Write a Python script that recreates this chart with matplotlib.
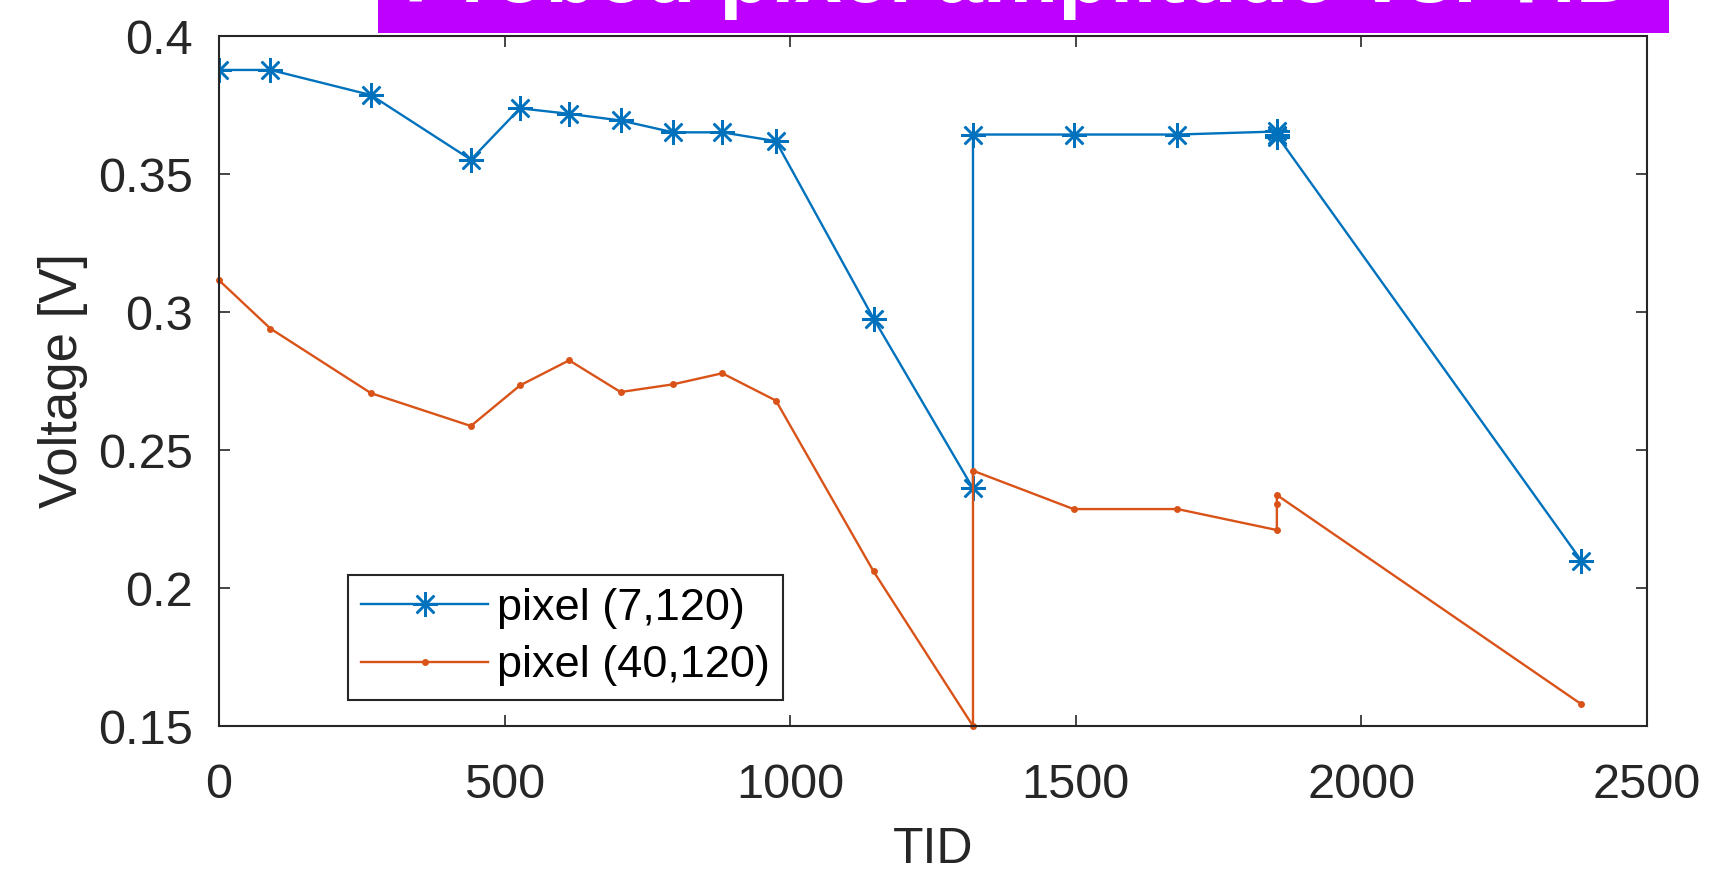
import matplotlib
matplotlib.use("Agg")
import matplotlib.pyplot as plt
from matplotlib.patches import Rectangle

plt.rcParams['font.family'] = ['Liberation Sans', 'DejaVu Sans']

# Total ionizing dose steps
tid = [0, 90, 266, 441, 527, 613, 703, 795, 881, 975, 1146,
       1320, 1320, 1496, 1678, 1852, 1852, 1852, 2385]

# Probed amplitude for each pixel
pixel_7_120 = [0.3877, 0.3877, 0.3786, 0.3552, 0.3738, 0.3718, 0.3694,
               0.3651, 0.3651, 0.3619, 0.2976, 0.2361, 0.3643, 0.3643,
               0.3643, 0.3654, 0.3633, 0.3640, 0.2099]
pixel_40_120 = [0.3115, 0.2940, 0.2706, 0.2587, 0.2734, 0.2825, 0.2710,
                0.2738, 0.2778, 0.2679, 0.2060, 0.1500, 0.2425, 0.2286,
                0.2286, 0.2210, 0.2306, 0.2337, 0.1579]

series_labels = ['pixel (7,120)', 'pixel (40,120)']
title_text = 'Probed pixel amplitude vs. TID'

W, H = 1716, 876
fig = plt.figure(figsize=(W / 100, H / 100), dpi=100)
ax = fig.add_axes([219 / W, 1 - 726 / H, (1647 - 219) / W, (726 - 36) / H])

blue = '#0072BD'
orange = '#D95319'
ax.plot(tid, pixel_7_120, color=blue, lw=1.7, marker=(8, 2, 0),
        markersize=18, markeredgewidth=1.8, label=series_labels[0])
ax.plot(tid, pixel_40_120, color=orange, lw=1.7, marker='o',
        markersize=5, markeredgewidth=0, label=series_labels[1],
        clip_on=False)

ax.set_xlim(0, 2500)
ax.set_ylim(0.15, 0.4)
ax.set_xticks([0, 500, 1000, 1500, 2000, 2500])
ax.set_yticks([0.15, 0.2, 0.25, 0.3, 0.35, 0.4])
ax.set_yticklabels(['0.15', '0.2', '0.25', '0.3', '0.35', '0.4'])

ax.tick_params(direction='in', length=8, width=1.2, top=True, right=True,
               labelsize=35, colors='#262626', labelcolor='#262626')
ax.tick_params(axis='y', pad=19)
ax.tick_params(axis='x', pad=27)
for s in ax.spines.values():
    s.set_linewidth(1.5)
    s.set_color('#262626')

ax.set_xlabel('TID', fontsize=36, color='#262626', labelpad=13)
ax.set_ylabel('Voltage [V]', fontsize=38, color='#262626', labelpad=7)

leg = ax.legend(loc='lower left', bbox_to_anchor=(0.0903, 0.0377),
                borderaxespad=0, fontsize=32.5, handlelength=2.8,
                handletextpad=0.2, borderpad=0.3, labelspacing=0.36,
                fancybox=False, framealpha=1, edgecolor='#262626')
leg.get_frame().set_linewidth(1.5)

# Title banner along the top edge
fig.patches.append(Rectangle((378 / W, 1 - 33 / H), (1669 - 378) / W, 0.05,
                             transform=fig.transFigure, facecolor='#BD00FF',
                             edgecolor='none', zorder=5))
fig.text(404 / W, 1 - 2 / H, title_text, fontsize=61, fontweight='bold',
         color='white', ha='left', va='baseline', zorder=6)

fig.savefig('out.png', dpi=100)
